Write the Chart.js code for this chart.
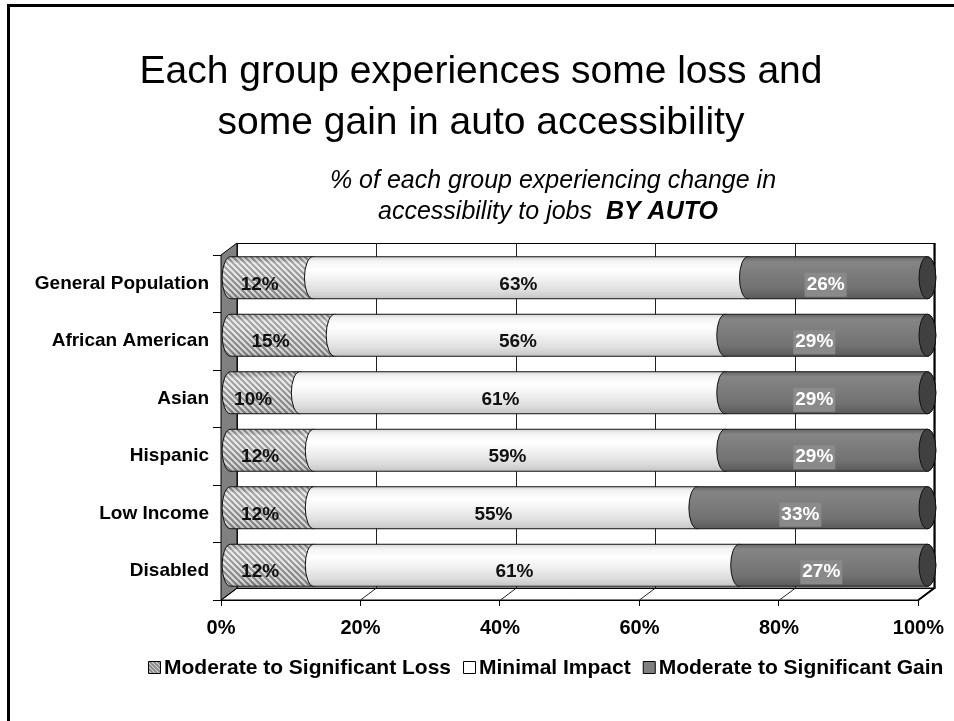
<!DOCTYPE html>
<html>
<head>
<meta charset="utf-8">
<script src="https://cdn.jsdelivr.net/npm/chart.js@4.4.0/dist/chart.umd.min.js"></script>
<style>
  html, body { margin: 0; padding: 0; background: #fff; }
  #wrap { width: 954px; height: 721px; }
</style>
</head>
<body>
<div id="wrap"><canvas id="chart" width="954" height="721"></canvas></div>
<script>
const groups = ["General Population", "African American", "Asian", "Hispanic", "Low Income", "Disabled"];
const lossPct = [12, 15, 10, 12, 12, 12];
const minimalPct = [63, 56, 61, 59, 55, 61];
const gainPct = [26, 29, 29, 29, 33, 27];
const seriesNames = ["Moderate to Significant Loss", "Minimal Impact", "Moderate to Significant Gain"];
const xTicks = [0, 20, 40, 60, 80, 100];

const FONT = "Arial, 'Liberation Sans', sans-serif";
const DX = 16, DY = -12; // depth of the 3d box

// 100% stacked: each row is scaled to its own total
const totals = groups.map((g, i) => lossPct[i] + minimalPct[i] + gainPct[i]);
const share = arr => arr.map((v, i) => v / totals[i] * 100);

function hatch(size) {
  const c = document.createElement("canvas");
  c.width = c.height = size;
  const g = c.getContext("2d");
  g.fillStyle = "#e6e6e6";
  g.fillRect(0, 0, size, size);
  g.strokeStyle = "#8a8a8a";
  g.lineWidth = 2;
  for (const k of [-size, 0, size]) {
    g.beginPath();
    g.moveTo(k - 1, -1);
    g.lineTo(k + size + 1, size + 1);
    g.stroke();
  }
  return g.createPattern(c, "repeat");
}

function bodyPath(ctx, x0, x1, yc, rx, ry) {
  ctx.beginPath();
  ctx.ellipse(x0, yc, rx, ry, 0, -Math.PI / 2, Math.PI / 2, true);
  ctx.lineTo(x1, yc + ry);
  ctx.ellipse(x1, yc, rx, ry, 0, Math.PI / 2, -Math.PI / 2, true);
  ctx.closePath();
}

function vGrad(ctx, top, h, stops) {
  const gr = ctx.createLinearGradient(0, top, 0, top + h);
  stops.forEach(s => gr.addColorStop(s[0], s[1]));
  return gr;
}

function fillSegment(ctx, series, top, h) {
  if (series === 0) {
    ctx.fillStyle = hatch(6);
    ctx.fill();
    ctx.fillStyle = vGrad(ctx, top, h, [[0, "rgba(0,0,0,0.12)"], [0.15, "rgba(255,255,255,0.25)"],
      [0.45, "rgba(255,255,255,0.1)"], [0.85, "rgba(0,0,0,0.05)"], [1, "rgba(0,0,0,0.18)"]]);
    ctx.fill();
  } else if (series === 1) {
    ctx.fillStyle = vGrad(ctx, top, h, [[0, "#d6d6d6"], [0.1, "#f3f3f3"], [0.3, "#ffffff"],
      [0.55, "#f0f0f0"], [0.8, "#dedede"], [1, "#c6c6c6"]]);
    ctx.fill();
  } else {
    ctx.fillStyle = vGrad(ctx, top, h, [[0, "#666"], [0.12, "#858585"], [0.35, "#7e7e7e"],
      [0.75, "#727272"], [1, "#5a5a5a"]]);
    ctx.fill();
  }
}

const box3d = {
  id: "box3d",
  beforeDraw(chart) {
    const ctx = chart.ctx;
    ctx.save();
    ctx.fillStyle = "#fff";
    ctx.fillRect(0, 0, chart.width, chart.height);
    // slide frame
    ctx.strokeStyle = "#000";
    ctx.lineWidth = 3;
    ctx.beginPath();
    ctx.moveTo(8.5, chart.height + 2);
    ctx.lineTo(8.5, 5.5);
    ctx.lineTo(chart.width + 2, 5.5);
    ctx.stroke();

    ctx.fillStyle = "#000";
    ctx.textAlign = "center";
    ctx.textBaseline = "middle";
    ctx.font = "39px " + FONT;
    ctx.fillText("Each group experiences some loss and", 481, 72);
    ctx.fillText("some gain in auto accessibility", 481, 123);

    ctx.font = "italic 25px " + FONT;
    ctx.fillText("% of each group experiencing change in", 553, 181);
    const a = "accessibility to jobs  ", b = "BY AUTO";
    const wa = ctx.measureText(a).width;
    ctx.font = "italic bold 25px " + FONT;
    const wb = ctx.measureText(b).width;
    const sx = 548 - (wa + wb) / 2;
    ctx.textAlign = "left";
    ctx.fillText(b, sx + wa, 212);
    ctx.font = "italic 25px " + FONT;
    ctx.fillText(a, sx, 212);
    ctx.restore();
  },
  beforeDatasetsDraw(chart) {
    const ctx = chart.ctx, ca = chart.chartArea, xs = chart.scales.x;
    ctx.save();
    ctx.lineWidth = 1;
    ctx.strokeStyle = "#000";
    // floor
    ctx.beginPath();
    ctx.moveTo(ca.left, ca.bottom);
    ctx.lineTo(ca.right, ca.bottom);
    ctx.lineTo(ca.right + DX, ca.bottom + DY);
    ctx.lineTo(ca.left + DX, ca.bottom + DY);
    ctx.closePath();
    ctx.fillStyle = "#fff";
    ctx.fill();
    ctx.stroke();
    // back wall
    ctx.strokeRect(ca.left + DX + 0.5, ca.top + DY + 0.5, ca.right - ca.left, ca.bottom - ca.top);
    // gridlines on wall and floor
    ctx.strokeStyle = "#222";
    xTicks.forEach(v => {
      const px = Math.round(xs.getPixelForValue(v)) + 0.5;
      ctx.beginPath();
      ctx.moveTo(px, ca.bottom);
      ctx.lineTo(px + DX, ca.bottom + DY);
      ctx.lineTo(px + DX, ca.top + DY);
      ctx.stroke();
    });
    ctx.lineWidth = 2;
    ctx.strokeStyle = "#000";
    ctx.beginPath();
    ctx.moveTo(ca.right + DX, ca.top + DY);
    ctx.lineTo(ca.right + DX, ca.bottom + DY);
    ctx.lineTo(ca.right, ca.bottom);
    ctx.stroke();
    // side wall
    ctx.lineWidth = 1;
    ctx.beginPath();
    ctx.moveTo(ca.left, ca.top);
    ctx.lineTo(ca.left + DX, ca.top + DY);
    ctx.lineTo(ca.left + DX, ca.bottom + DY);
    ctx.lineTo(ca.left, ca.bottom);
    ctx.closePath();
    ctx.fillStyle = "#808080";
    ctx.fill();
    ctx.stroke();
    ctx.restore();
  },
  afterDatasetsDraw(chart) {
    const ctx = chart.ctx;
    const metas = chart.data.datasets.map((d, i) => chart.getDatasetMeta(i));
    ctx.save();
    ctx.lineWidth = 1;
    ctx.strokeStyle = "#111";
    groups.forEach((g, j) => {
      let last = null;
      metas.forEach((meta, i) => {
        const el = meta.data[j];
        const x0 = Math.min(el.base, el.x) + DX / 2 + 1;
        const x1 = Math.max(el.base, el.x) + DX / 2 + 1;
        const yc = el.y + DY / 2, ry = el.height / 2, rx = el.height * 0.2;
        bodyPath(ctx, x0, x1, yc, rx, ry);
        fillSegment(ctx, i, yc - ry, el.height);
        ctx.stroke();
        last = { x1, yc, rx, ry };
      });
      // visible end cap of the cylinder
      ctx.beginPath();
      ctx.ellipse(last.x1, last.yc, last.rx, last.ry, 0, 0, Math.PI * 2);
      ctx.fillStyle = "#404040";
      ctx.fill();
      ctx.stroke();

      metas.forEach((meta, i) => {
        const el = meta.data[j];
        const raw = chart.data.datasets[i].raw[j];
        const txt = raw + "%";
        const cx = (el.base + el.x) / 2 - 3, cy = el.y + 1;
        ctx.font = "bold 19px " + FONT;
        ctx.textAlign = "center";
        ctx.textBaseline = "middle";
        if (i === 2) {
          const w = ctx.measureText(txt).width;
          ctx.fillStyle = "#8a8a8a";
          ctx.fillRect(cx - w / 2 - 2, cy - 12, w + 4, 24);
          ctx.fillStyle = "#fff";
        } else {
          ctx.fillStyle = "#111";
        }
        ctx.fillText(txt, cx, cy);
      });
    });
    ctx.restore();
  },
  afterDraw(chart) {
    const ctx = chart.ctx;
    ctx.save();
    ctx.font = "bold 21px " + FONT;
    ctx.textBaseline = "middle";
    ctx.textAlign = "left";
    const sw = 12, gap = 4, sep = 12, y = 667;
    const widths = seriesNames.map(n => ctx.measureText(n).width);
    const total = widths.reduce((a, b) => a + b, 0) + seriesNames.length * (sw + gap) + sep * (seriesNames.length - 1);
    let x = Math.round(546 - total / 2);
    seriesNames.forEach((n, i) => {
      ctx.beginPath();
      ctx.rect(x + 0.5, y - sw / 2 + 0.5, sw, sw);
      if (i === 0) ctx.fillStyle = hatch(4);
      else if (i === 1) ctx.fillStyle = "#fff";
      else ctx.fillStyle = "#808080";
      ctx.fill();
      ctx.strokeStyle = "#000";
      ctx.lineWidth = 1;
      ctx.stroke();
      ctx.fillStyle = "#000";
      ctx.fillText(n, x + sw + gap, y + 1);
      x += sw + gap + widths[i] + sep;
    });
    ctx.restore();
  }
};

new Chart(document.getElementById("chart"), {
  type: "bar",
  data: {
    labels: groups,
    datasets: [
      { label: seriesNames[0], data: share(lossPct), raw: lossPct },
      { label: seriesNames[1], data: share(minimalPct), raw: minimalPct },
      { label: seriesNames[2], data: share(gainPct), raw: gainPct }
    ].map(d => Object.assign(d, {
      backgroundColor: "rgba(0,0,0,0)",
      borderWidth: 0,
      categoryPercentage: 1,
      barPercentage: 0.73
    }))
  },
  options: {
    indexAxis: "y",
    responsive: false,
    animation: false,
    devicePixelRatio: 1,
    layout: { padding: { top: 255, right: 31, left: 0, bottom: 0 } },
    plugins: { legend: { display: false }, tooltip: { enabled: false } },
    scales: {
      x: {
        stacked: true,
        min: 0,
        max: 100,
        afterBuildTicks: s => { s.ticks = xTicks.map(v => ({ value: v })); },
        afterFit: s => { s.height = 121; },
        ticks: {
          callback: v => v + "%",
          color: "#000",
          font: { family: FONT, size: 20, weight: "bold" },
          padding: 10,
          maxRotation: 0
        },
        grid: { drawOnChartArea: false, tickLength: 6, color: "#000" },
        border: { color: "#000" }
      },
      y: {
        stacked: true,
        afterFit: s => { s.width = 221; },
        ticks: {
          color: "#000",
          font: { family: FONT, size: 19, weight: "bold" },
          padding: 4
        },
        grid: { drawOnChartArea: false, tickLength: 8, color: "#000", offset: true },
        border: { color: "#000" }
      }
    }
  },
  plugins: [box3d]
});
</script>
</body>
</html>
